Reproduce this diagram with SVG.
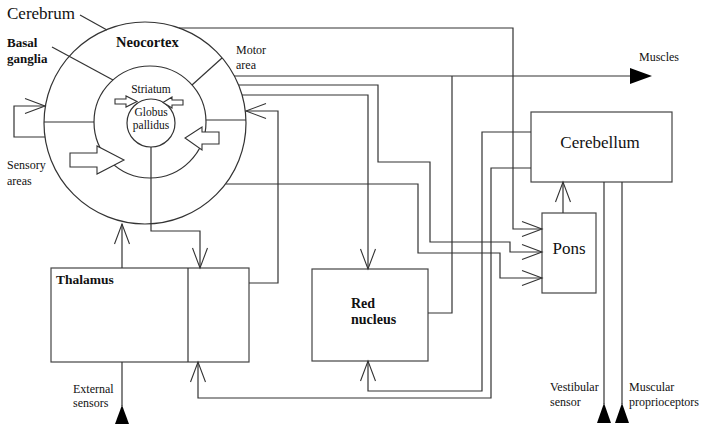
<svg xmlns="http://www.w3.org/2000/svg" width="704" height="426" viewBox="0 0 704 426">
<style>
  .ln{fill:none;stroke:#333;stroke-width:1.2}
  .bx{fill:#fff;stroke:#444;stroke-width:1.2}
  .ha{fill:#fff;stroke:#333;stroke-width:1.1}
  .tri{fill:#000;stroke:none}
  text{font-family:"Liberation Serif","Times New Roman",serif;fill:#111}
  .sm{font-size:12px}
  .xs{font-size:11.5px}
  .big{font-size:17px}
  .bd{font-weight:bold}
</style>
<defs>
  <marker id="arr" viewBox="-22 -10 24 20" markerWidth="24" markerHeight="20" refX="0" refY="0" orient="auto" markerUnits="userSpaceOnUse">
    <path d="M-20,-7.5 L0,0 L-20,7.5" fill="none" stroke="#333" stroke-width="1.1"/>
  </marker>
</defs>
<rect width="704" height="426" fill="#fff"/>

<g id="cerebrum">
  <circle cx="145" cy="123" r="101" class="ln"/>
  <circle cx="150" cy="122" r="56" class="ln"/>
  <line x1="44" y1="122" x2="94" y2="122" class="ln"/>
  <line x1="206" y1="120" x2="246" y2="120" class="ln"/>
  <line x1="192" y1="85" x2="222" y2="58" class="ln"/>
  <line x1="80" y1="15" x2="107" y2="30" class="ln"/>
  <line x1="52" y1="47" x2="113" y2="80" class="ln"/>
  <text x="7" y="19" style="font-size:17px">Cerebrum</text>
  <text x="7" y="47" style="font-size:13px" class="bd">Basal</text>
  <text x="7" y="63" style="font-size:13px" class="bd">ganglia</text>
  <text x="116" y="47" style="font-size:14.5px" class="bd">Neocortex</text>
  <text x="236" y="54" class="sm">Motor</text>
  <text x="236" y="69" class="sm">area</text>
  <text x="7" y="169" class="sm">Sensory</text>
  <text x="7" y="185" class="sm">areas</text>
  <polygon class="ha" points="70,153 97,153 97,146 124,160 97,174 97,167 70,167"/>
  <polygon class="ha" points="219,132 202,132 202,127 185,138 202,150 202,144 219,144"/>
</g>

<g id="globus-pallidus">
  <circle cx="151" cy="123" r="24" class="ln"/>
  <text x="151" y="93" class="xs" text-anchor="middle">Striatum</text>
  <text x="151" y="116" class="xs" text-anchor="middle">Globus</text>
  <text x="151" y="129" class="xs" text-anchor="middle">pallidus</text>
  <polygon class="ha" points="115,99 126,99 126,96 137,101.5 126,107 126,104 115,104"/>
  <polygon class="ha" points="183,100 172,100 172,97 163,102.5 172,108 172,105 183,105"/>
</g>

<g id="thalamus">
  <rect x="51" y="268" width="198" height="94" class="bx"/>
  <line x1="188" y1="268" x2="188" y2="362" class="ln"/>
  <text x="56" y="284" style="font-size:13.5px" class="bd">Thalamus</text>
</g>

<g id="red-nucleus">
  <rect x="312" y="269" width="116" height="92" class="bx"/>
  <text x="351" y="308" style="font-size:14px" class="bd">Red</text>
  <text x="351" y="324" style="font-size:14px" class="bd">nucleus</text>
</g>

<g id="cerebellum">
  <rect x="531" y="112" width="141" height="70" class="bx"/>
  <text x="600" y="148" class="big" text-anchor="middle">Cerebellum</text>
</g>

<g id="pons">
  <rect x="542" y="213" width="54" height="80" class="bx"/>
  <text x="569" y="254" class="big" text-anchor="middle">Pons</text>
</g>

<g id="labels">
  <text x="639" y="61" class="sm">Muscles</text>
  <text x="73" y="393" class="sm">External</text>
  <text x="73" y="407" class="sm">sensors</text>
  <text x="550" y="391" class="sm">Vestibular</text>
  <text x="550" y="406" class="sm">sensor</text>
  <text x="629" y="391" class="sm">Muscular</text>
  <text x="629" y="406" class="sm">proprioceptors</text>
</g>

<g id="connectors">
  <polyline class="ln" points="45,137 14,137 14,106 45,106" marker-end="url(#arr)"/>
  <polyline class="ln" points="179,28 513,28 513,229 542,229" marker-end="url(#arr)"/>
  <line class="ln" x1="234" y1="76" x2="632" y2="76"/>
  <polygon class="tri" points="630,68 652,76 630,84"/>
  <polyline class="ln" points="428,313 452,313 452,76"/>
  <polyline class="ln" points="239,85 378,85 378,162 430,162 430,242 510,242 510,252 542,252" marker-end="url(#arr)"/>
  <polyline class="ln" points="242,95 368,95 368,269" marker-end="url(#arr)"/>
  <polyline class="ln" points="249,283 278,283 278,111 246,111" marker-end="url(#arr)"/>
  <polyline class="ln" points="226,184 418,184 418,253 500,253 500,278 542,278" marker-end="url(#arr)"/>
  <polyline class="ln" points="151,147 151,231 200,231 200,268" marker-end="url(#arr)"/>
  <line class="ln" x1="122" y1="268" x2="122" y2="224" marker-end="url(#arr)"/>
  <line class="ln" x1="122" y1="362" x2="122" y2="406"/>
  <polygon class="tri" points="115,424 122,405 129,424"/>
  <polyline class="ln" points="531,132 482,132 482,391 368,391 368,361" marker-end="url(#arr)"/>
  <polyline class="ln" points="531,168 491,168 491,398 198,398 198,362" marker-end="url(#arr)"/>
  <line class="ln" x1="563" y1="213" x2="563" y2="182" marker-end="url(#arr)"/>
  <line class="ln" x1="604" y1="182" x2="604" y2="404"/>
  <line class="ln" x1="622" y1="182" x2="622" y2="404"/>
  <polygon class="tri" points="597,423 604,403 611,423"/>
  <polygon class="tri" points="615,423 622,403 629,423"/>
</g>
</svg>
